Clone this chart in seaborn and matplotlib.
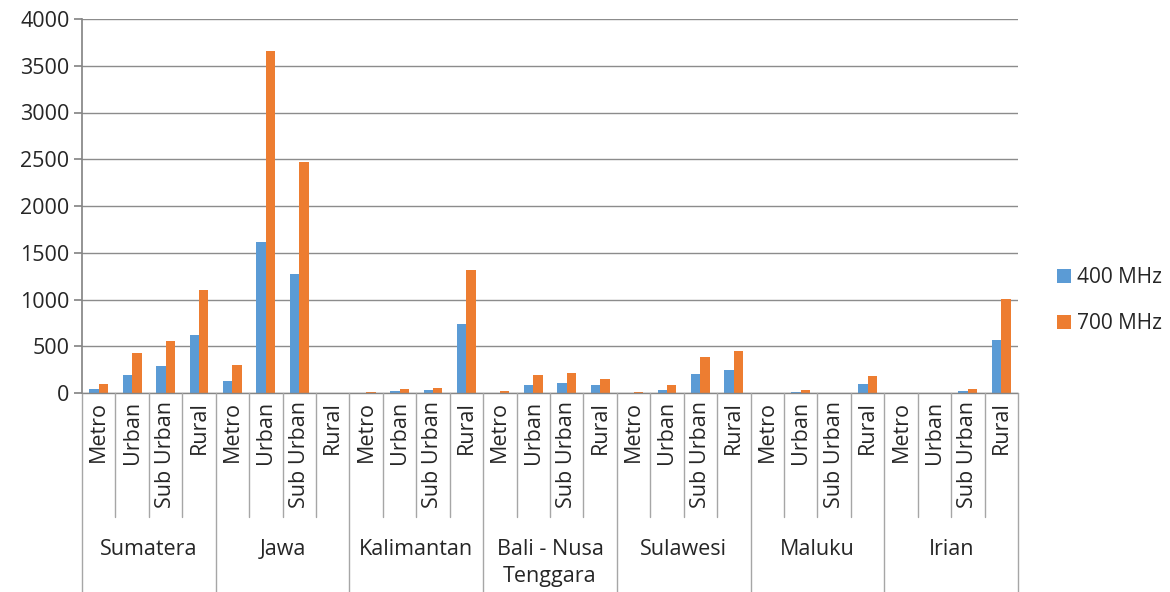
import matplotlib.pyplot as plt
import matplotlib.transforms as mtransforms
import pandas as pd
import seaborn as sns

# values
regions = ["Sumatera", "Jawa", "Kalimantan", "Bali - Nusa\nTenggara",
           "Sulawesi", "Maluku", "Irian"]
areas = ["Metro", "Urban", "Sub Urban", "Rural"]
mhz_400 = [40, 190, 290, 622,
           130, 1611, 1278, 0,
           5, 20, 30, 743,
           0, 85, 108, 85,
           0, 32, 200, 248,
           0, 10, 0, 100,
           0, 0, 18, 572]
mhz_700 = [95, 430, 555, 1100,
           300, 3660, 2468, 0,
           12, 48, 58, 1313,
           20, 195, 213, 150,
           10, 86, 388, 452,
           0, 32, 0, 186,
           0, 0, 43, 1010]
bands = ["400 MHz", "700 MHz"]
colors = ["#5B9BD5", "#ED7D31"]

keys = [f"{r}|{a}" for r in regions for a in areas]
df = pd.DataFrame({
    "key": keys * 2,
    "value": mhz_400 + mhz_700,
    "band": [bands[0]] * len(keys) + [bands[1]] * len(keys),
})

sns.set_theme(style="white")
plt.rcParams["font.family"] = ["Open Sans", "DejaVu Sans"]
fs = 15.5

fig = plt.figure(figsize=(11.7, 5.92), dpi=100)
ax = fig.add_axes([82 / 1170, 1 - 393 / 592, (1018 - 82) / 1170, (393 - 19) / 592])

sns.barplot(data=df, x="key", y="value", hue="band", order=keys,
            palette=colors, width=0.56, saturation=1, ax=ax,
            edgecolor="none", legend=True)

ax.set_xlim(-0.5, len(keys) - 0.5)
ax.set_ylim(0, 4000)
ax.set_yticks(range(0, 4001, 500))
ax.tick_params(axis="y", labelsize=fs, length=6, color="#868686",
               direction="out", left=True, pad=3)
ax.yaxis.grid(True, color="#8c8c8c", linewidth=1)
ax.set_axisbelow(True)
ax.set_xlabel("")
ax.set_ylabel("")
for side in ["top", "right", "bottom"]:
    ax.spines[side].set_visible(False)
ax.spines["left"].set_color("#868686")

ax.set_xticks(range(len(keys)))
ax.set_xticklabels(areas * len(regions), rotation=90, fontsize=fs,
                   va="top", ha="center")
ax.tick_params(axis="x", length=0, pad=6)

# multi-level category axis lines
trans = mtransforms.blended_transform_factory(ax.transData, fig.transFigure)
y_axis = 1 - 393 / 592
y_sub = 1 - 517 / 592
ax.plot([-0.5, len(keys) - 0.5], [y_axis, y_axis], transform=trans,
        color="#868686", lw=1, clip_on=False)
for i in range(len(keys) + 1):
    xb = i - 0.5
    bottom = 0 if i % len(areas) == 0 else y_sub
    ax.plot([xb, xb], [y_axis, bottom], transform=trans,
            color="#a6a6a6", lw=1, clip_on=False)
for j, r in enumerate(regions):
    xc = j * len(areas) + (len(areas) - 1) / 2
    ax.text(xc, 1 - 539 / 592, r, transform=trans, ha="center", va="top",
            fontsize=fs, linespacing=1.4)

handles, labels = ax.get_legend_handles_labels()
ax.legend_.remove()
fig.legend(handles, labels, loc="center left", bbox_to_anchor=(0.9034, 0.492),
           frameon=False, fontsize=15, borderpad=0, borderaxespad=0,
           handlelength=0.65, handleheight=0.65, handletextpad=0.33,
           labelspacing=1.2)

fig.savefig("out.png", dpi=100)
